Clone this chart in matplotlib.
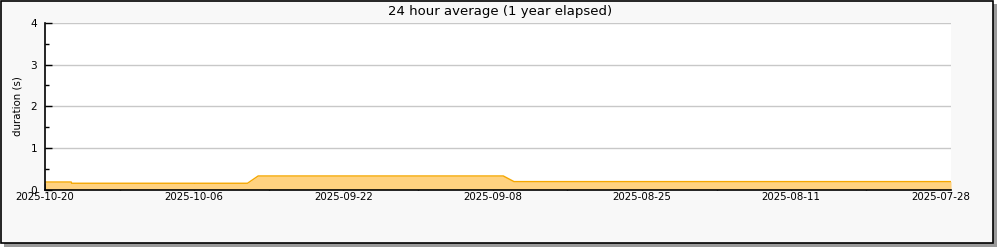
import matplotlib
matplotlib.use("Agg")
import matplotlib.pyplot as plt
import matplotlib.dates as mdates
from matplotlib.patches import Rectangle
import datetime as dt

# 24 hour average duration, oldest first
dates = ["2025-07-27 00:00", "2025-09-06 00:00", "2025-09-07 00:00",
         "2025-09-30 00:00", "2025-10-01 00:00", "2025-10-17 12:00",
         "2025-10-17 13:00", "2025-10-20 00:00"]
values = [0.19, 0.19, 0.325, 0.325, 0.15, 0.15, 0.18, 0.18]

x_start = "2025-10-20"
x_stop = "2025-07-27"
tick_dates = ["2025-10-20", "2025-10-06", "2025-09-22", "2025-09-08",
              "2025-08-25", "2025-08-11", "2025-07-28"]
minor_dates = ["2025-10-13", "2025-09-29", "2025-09-15", "2025-09-01",
               "2025-08-18", "2025-08-04"]

def d(s):
    return mdates.date2num(dt.datetime.fromisoformat(s))

xs = [d(s) for s in dates]

fig = plt.figure(figsize=(10, 2.5), dpi=100)
fig.patch.set_facecolor("white")

# frame with shadow
fig.add_artist(Rectangle((4 / 1000, 3 / 250), 993 / 1000, 243 / 250,
                         transform=fig.transFigure, facecolor="#9a9a9a",
                         edgecolor="none", zorder=-2))
fig.add_artist(Rectangle((1 / 1000, 7 / 250), 992 / 1000, 242 / 250,
                         transform=fig.transFigure, facecolor="#f8f8f8",
                         edgecolor="black", linewidth=1.2, zorder=-1))

ax = fig.add_axes([0.045, 0.242, 0.906, 0.666])
ax.set_zorder(1)
ax.set_facecolor("white")
ax.fill_between(xs, values, 0, color="#ffd280", linewidth=0, zorder=2)
ax.plot(xs, values, color="#f5a700", linewidth=1, zorder=3)

ax.set_xlim(d(x_start), d(x_stop))
ax.set_ylim(0, 4)
ax.set_xticks([d(s) for s in tick_dates])
ax.set_xticklabels(tick_dates, fontsize=7.4)
ax.set_xticks([d(s) for s in minor_dates], minor=True)
ax.set_yticks([0, 1, 2, 3, 4])
ax.set_yticklabels(["0", "1", "2", "3", "4"], fontsize=7.6)
ax.set_yticks([0.5, 1.5, 2.5, 3.5], minor=True)
ax.tick_params(axis="both", which="both", direction="in", color="black", width=1)
ax.tick_params(axis="both", which="major", length=5)
ax.tick_params(axis="x", which="major", pad=2)
ax.tick_params(axis="y", which="major", pad=5.5)
ax.tick_params(axis="both", which="minor", length=3)
ax.grid(axis="y", color="#c8c8c8", linewidth=1, zorder=1)
ax.set_axisbelow(True)
for s in ["top", "right"]:
    ax.spines[s].set_visible(False)
for s in ["left", "bottom"]:
    ax.spines[s].set_linewidth(1.2)
    ax.spines[s].set_zorder(5)

ax.set_ylabel("duration (s)", fontsize=7.4, labelpad=6)
fig.text(0.5, 0.954, "24 hour average (1 year elapsed)", ha="center",
         va="center", fontsize=9.5)

plt.savefig("out.png", dpi=100, facecolor=fig.get_facecolor())
